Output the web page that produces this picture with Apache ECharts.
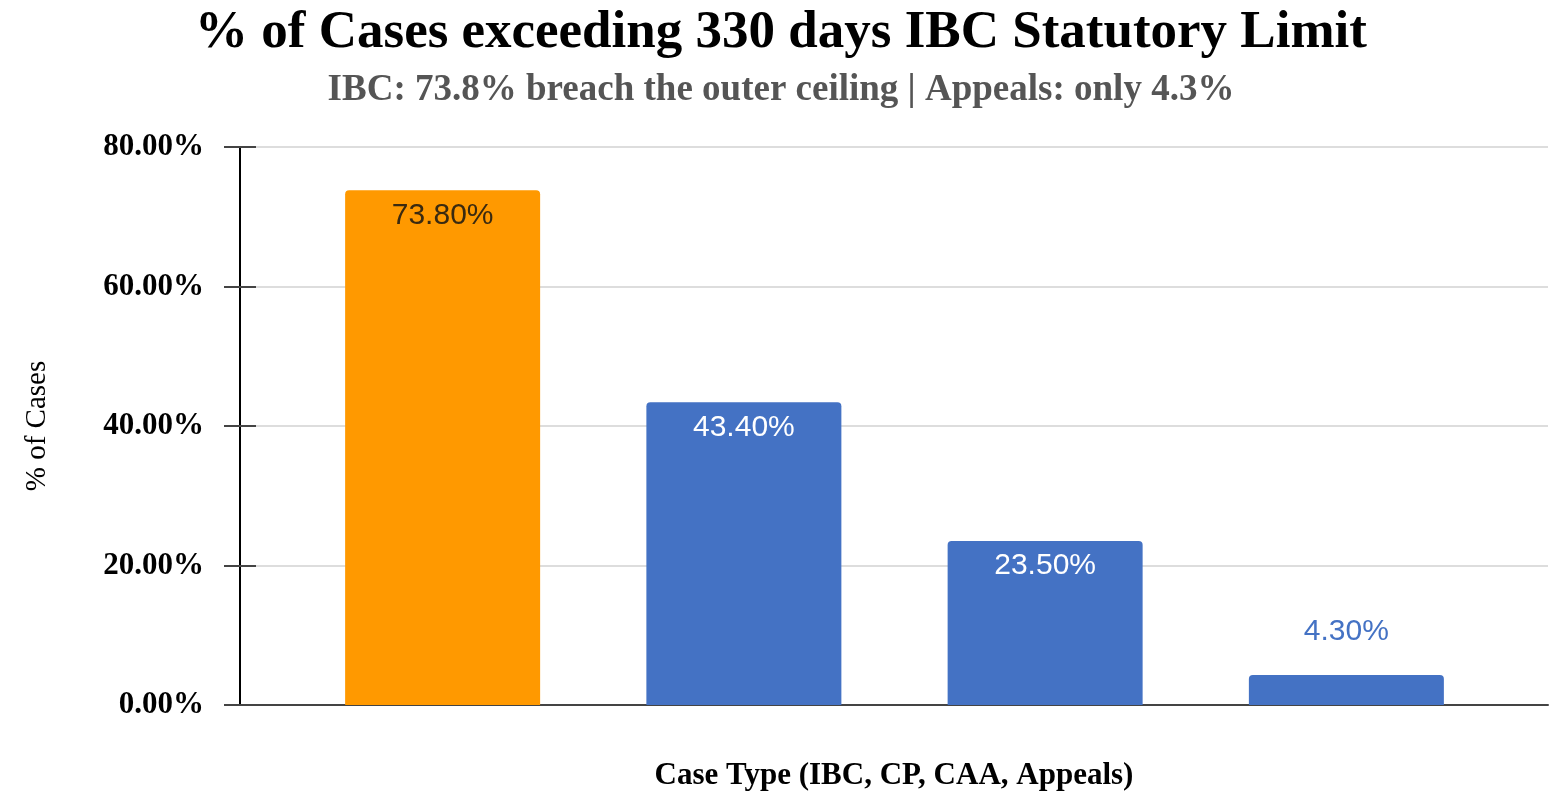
<!DOCTYPE html>
<html>
<head>
<meta charset="utf-8">
<script src="https://cdn.jsdelivr.net/npm/echarts@6/dist/echarts.min.js"></script>
<style>html,body{margin:0;padding:0;background:#fff}#c{width:1562px;height:792px}</style>
</head>
<body>
<div id="c"></div>
<script>
const categories = ['IBC', 'CP', 'CAA', 'Appeals'];
const values = [73.8, 43.4, 23.5, 4.3];
const barColors = ['#FF9900', '#4472C4', '#4472C4', '#4472C4'];
const yTicks = [0, 20, 40, 60, 80];

const chart = echarts.init(document.getElementById('c'));
const serif = '"Liberation Serif","Times New Roman",serif';
const sans = '"Liberation Sans",Arial,sans-serif';

const labelStyles = [
  {position: 'insideTop', distance: 10, color: '#3a2a10'},
  {position: 'insideTop', distance: 10, color: '#ffffff'},
  {position: 'insideTop', distance: 10, color: '#ffffff'},
  {position: 'top', distance: 28, color: '#4472C4'}
];

const data = values.map((v, i) => ({
  value: v,
  itemStyle: {color: barColors[i], borderRadius: [4, 4, 0, 0]},
  label: Object.assign({show: true, fontFamily: sans, fontSize: 30,
    formatter: p => p.value.toFixed(2) + '%'}, labelStyles[i])
}));

chart.setOption({
  animation: false,
  title: [
    {text: '% of Cases exceeding 330 days IBC Statutory Limit', left: 'center', top: 2,
     textStyle: {fontFamily: serif, fontWeight: 'bold', fontSize: 53, color: '#000'}},
    {text: 'IBC: 73.8% breach the outer ceiling | Appeals: only 4.3%', left: 'center', top: 67,
     textStyle: {fontFamily: serif, fontWeight: 'bold', fontSize: 37, color: '#555'}}
  ],
  grid: [
    {left: 292, right: 65, top: 147, bottom: 87, outerBoundsMode: 'none', containLabel: false},
    {left: 240, right: 14, top: 147, bottom: 87, outerBoundsMode: 'none', containLabel: false}
  ],
  xAxis: [
    {type: 'category', gridIndex: 0, data: categories,
     axisLine: {show: false}, axisTick: {show: false}, axisLabel: {show: false}},
    {type: 'value', gridIndex: 1, min: 0, max: 1,
     name: 'Case Type (IBC, CP, CAA, Appeals)', nameLocation: 'middle', nameGap: 55,
     nameTextStyle: {fontFamily: serif, fontWeight: 'bold', fontSize: 31, color: '#000'},
     axisLine: {show: true, lineStyle: {color: '#444', width: 2}},
     axisTick: {show: false}, axisLabel: {show: false}, splitLine: {show: false}}
  ],
  yAxis: [
    {type: 'value', gridIndex: 0, min: 0, max: 80, interval: 20, show: false},
    {type: 'value', gridIndex: 1, min: 0, max: 80, interval: 20,
     name: '% of Cases', nameLocation: 'middle', nameGap: 188, nameRotate: 90,
     nameTextStyle: {fontFamily: serif, fontSize: 29, color: '#000'},
     axisLine: {show: true, lineStyle: {color: '#000', width: 2}},
     axisTick: {show: true, length: 16, lineStyle: {color: '#444', width: 2}},
     axisLabel: {margin: 36, fontFamily: serif, fontWeight: 'bold', fontSize: 31, color: '#000',
       formatter: v => v.toFixed(2) + '%'},
     splitLine: {show: true, lineStyle: {color: '#dddddd', width: 2}}},
    {type: 'value', gridIndex: 1, min: 0, max: 80, interval: 20, position: 'left',
     axisLine: {show: false}, axisLabel: {show: false}, splitLine: {show: false},
     axisTick: {show: true, inside: true, length: 16, lineStyle: {color: '#444', width: 2}}}
  ],
  series: [{
    type: 'bar', xAxisIndex: 0, yAxisIndex: 0, barWidth: 195, data: data
  }]
});
</script>
</body>
</html>
